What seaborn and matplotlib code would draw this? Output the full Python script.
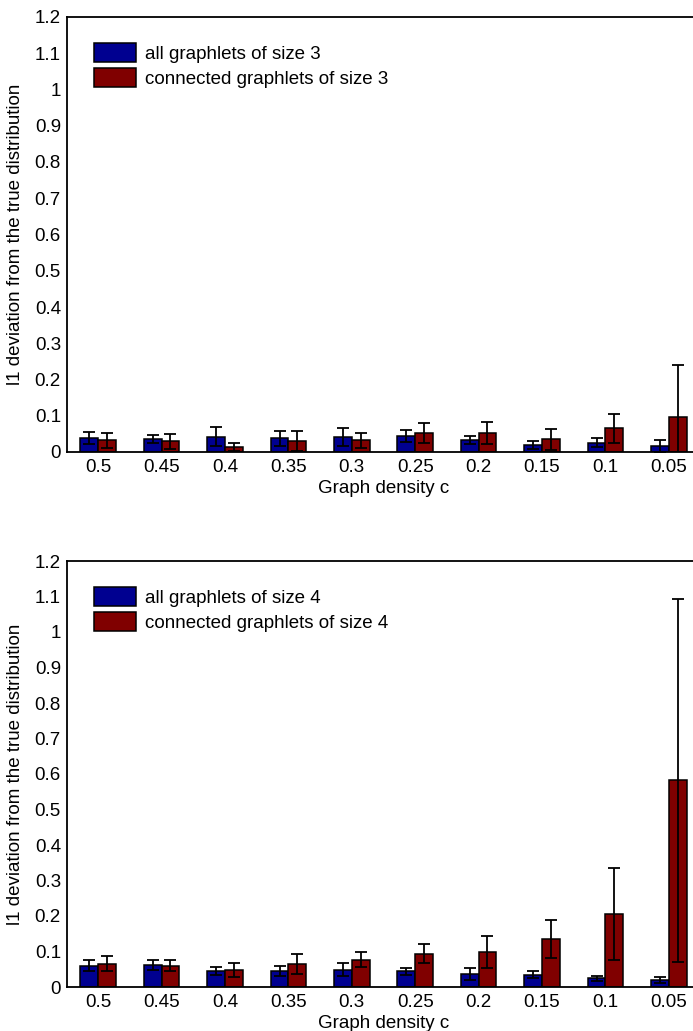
import numpy as np
import pandas as pd
import matplotlib
matplotlib.use("Agg")
import matplotlib.pyplot as plt
import seaborn as sns

# Graph densities on the x axis (decreasing)
densities = ["0.5", "0.45", "0.4", "0.35", "0.3", "0.25", "0.2", "0.15", "0.1", "0.05"]

# Size-3 graphlets: mean l1 deviation and error half-widths
all3 = [0.038, 0.035, 0.042, 0.038, 0.041, 0.044, 0.033, 0.019, 0.026, 0.017]
all3_err = [0.016, 0.011, 0.026, 0.021, 0.024, 0.017, 0.011, 0.012, 0.012, 0.017]
conn3 = [0.032, 0.029, 0.014, 0.030, 0.032, 0.053, 0.053, 0.035, 0.065, 0.097]
conn3_err = [0.021, 0.021, 0.010, 0.027, 0.021, 0.028, 0.031, 0.029, 0.040, 0.143]

# Size-4 graphlets
all4 = [0.060, 0.062, 0.045, 0.045, 0.049, 0.044, 0.037, 0.035, 0.024, 0.020]
all4_err = [0.015, 0.014, 0.010, 0.015, 0.019, 0.010, 0.016, 0.011, 0.008, 0.008]
conn4 = [0.065, 0.060, 0.048, 0.064, 0.077, 0.094, 0.099, 0.136, 0.205, 0.582]
conn4_err = [0.021, 0.015, 0.020, 0.028, 0.021, 0.027, 0.046, 0.053, 0.130, 0.512]

ytick_vals = [0, 0.1, 0.2, 0.3, 0.4, 0.5, 0.6, 0.7, 0.8, 0.9, 1.0, 1.1, 1.2]
ytick_labels = ["0", "0.1", "0.2", "0.3", "0.4", "0.5", "0.6", "0.7", "0.8", "0.9", "1", "1.1", "1.2"]

series_colors = ["#000090", "#800000"]

sns.set_theme(style="white")
plt.rcParams["font.family"] = ["Liberation Sans", "DejaVu Sans"]
plt.rcParams["font.size"] = 13.5
plt.rcParams["text.color"] = "black"
plt.rcParams["axes.labelcolor"] = "black"
plt.rcParams["xtick.color"] = "black"
plt.rcParams["ytick.color"] = "black"

W, H = 693, 1031
fig = plt.figure(figsize=(W / 100, H / 100), dpi=100)

# axes rectangles in pixels: left, top, width, height
ax_left, ax_width = 66.5, 634
panels = [
    (17, 435, all3, all3_err, conn3, conn3_err, 3),
    (561, 426, all4, all4_err, conn4, conn4_err, 4),
]

for top, height, a_vals, a_err, c_vals, c_err, k in panels:
    ax = fig.add_axes([ax_left / W, 1 - (top + height) / H, ax_width / W, height / H])
    lab_a = f"all graphlets of size {k}"
    lab_c = f"connected graphlets of size {k}"
    df = pd.DataFrame({
        "density": densities * 2,
        "value": list(a_vals) + list(c_vals),
        "series": [lab_a] * len(densities) + [lab_c] * len(densities),
    })
    sns.barplot(data=df, x="density", y="value", hue="series", order=densities,
                hue_order=[lab_a, lab_c], palette=series_colors, errorbar=None,
                width=0.56, gap=0, edgecolor="black", linewidth=1.1,
                saturation=1, ax=ax)

    # error bars placed at the centres of the drawn bars
    for cont, vals, errs in zip(ax.containers, [a_vals, c_vals], [a_err, c_err]):
        xs = [b.get_x() + b.get_width() / 2 for b in cont]
        ax.errorbar(xs, vals, yerr=errs, fmt="none", ecolor="black",
                    elinewidth=1.3, capsize=4, capthick=1.3, zorder=5)

    ax.set_xlim(-0.5, 9.5)
    ax.set_ylim(0, 1.2)
    ax.set_yticks(ytick_vals)
    ax.set_yticklabels(ytick_labels)
    ax.tick_params(axis="both", length=0, labelsize=13.5, colors="black")
    ax.tick_params(axis="x", pad=5)
    ax.tick_params(axis="y", pad=4)
    for sp in ax.spines.values():
        sp.set_visible(True)
        sp.set_color("black")
        sp.set_linewidth(1.3)
    ax.set_xlabel("Graph density c", fontsize=13.5, labelpad=3, color="black")
    ax.set_ylabel("l1 deviation from the true distribution", fontsize=13.5,
                  labelpad=8, color="black")

    handles, labels = ax.get_legend_handles_labels()
    ax.legend(handles, labels, loc="upper left",
              bbox_to_anchor=(0.043, 1 - 26 / height),
              frameon=False, fontsize=13.5, handlelength=2.25, handleheight=1.15,
              handletextpad=0.5, labelspacing=0.3, borderpad=0, borderaxespad=0,
              labelcolor="black")

fig.savefig("out.png", dpi=100)
